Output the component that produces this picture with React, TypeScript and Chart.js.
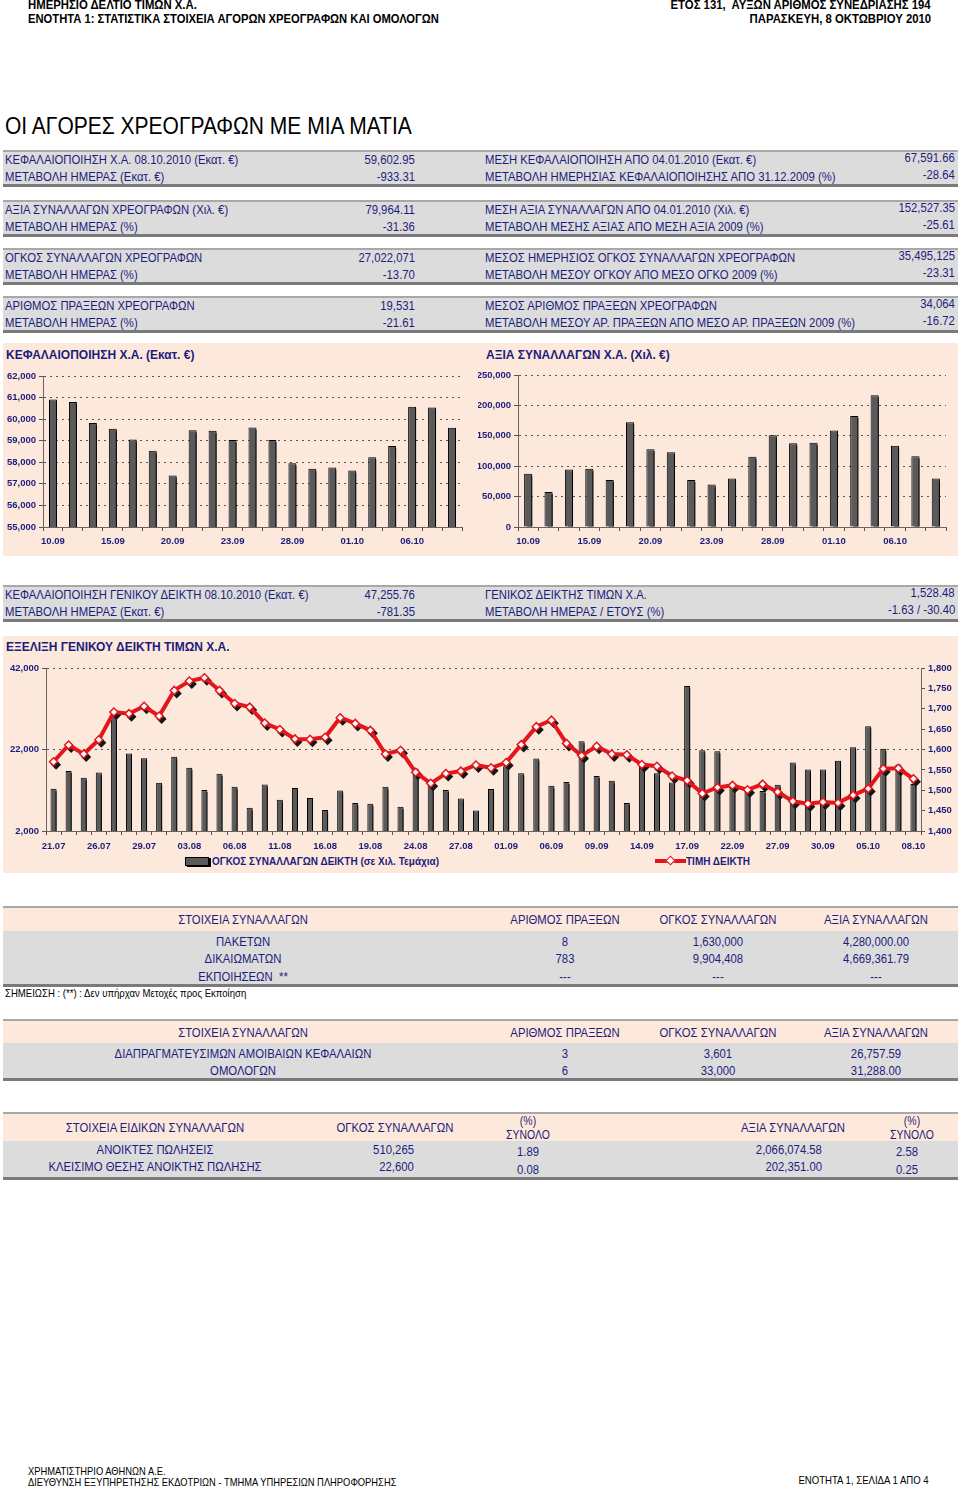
import React, { useEffect, useRef } from "react";
import { Chart, registerables } from "chart.js";

Chart.register(...registerables);

// ---------------- data ----------------
const capDates = ["10.09","13.09","14.09","15.09","16.09","17.09","20.09","21.09","22.09","23.09","24.09","27.09","28.09","29.09","30.09","01.10","04.10","05.10","06.10","07.10","08.10"];
const capValues = [60910,60790,59820,59560,59060,58540,57390,59490,59460,59030,59610,59030,57960,57700,57760,57620,58230,58750,60570,60540,59603];
const tradeValues = [87500,57400,94600,95700,77100,172300,128000,123100,77100,70000,79900,115400,151000,137900,138400,158600,182700,216600,133500,116500,79964];

const idxDates = ["21.07","22.07","23.07","26.07","27.07","28.07","29.07","30.07","02.08","03.08","04.08","05.08","06.08","09.08","10.08","11.08","12.08","13.08","16.08","17.08","18.08","19.08","20.08","23.08","24.08","25.08","26.08","27.08","30.08","31.08","01.09","02.09","03.09","06.09","07.09","08.09","09.09","10.09","13.09","14.09","15.09","16.09","17.09","20.09","21.09","22.09","23.09","24.09","27.09","28.09","29.09","30.09","01.10","04.10","05.10","06.10","07.10","08.10"];
const idxVolume = [12370,16700,15060,16370,30650,21000,19880,13840,20200,17500,12040,16040,12860,7700,13430,9670,12530,10080,7140,11960,8860,8690,12860,7960,17350,13670,12040,10000,7060,
  12290,17900,16200,19800,13100,14000,24040,15470,14330,8860,17900,16200,13920,37590,21840,21590,12860,12450,11800,13350,18820,17100,17100,19220,22570,27710,22160,18330,13510];
const idxPrice = [1570,1611,1589,1624,1692,1688,1706,1682,1745,1768,1776,1745,1713,1704,1665,1649,1626,1625,1630,1678,1664,1647,1589,1598,1544,1517,1541,1547,1562,
  1555,1568,1612,1656,1672,1615,1585,1608,1589,1587,1563,1559,1535,1524,1492,1507,1512,1501,1515,1496,1473,1467,1471,1469,1488,1504,1553,1554,1528];

const capAxis = [55000, 62000, 1000];
const tradeAxis = [0, 250000, 50000];
const volAxis = [2000, 42000, 20000];
const priceAxis = [1400, 1800, 50];

const summaryRows = [
  ["ΚΕΦΑΛΑΙΟΠΟΙΗΣΗ Χ.Α. 08.10.2010 (Εκατ. €)", "59,602.95", "ΜΕΣΗ ΚΕΦΑΛΑΙΟΠΟΙΗΣΗ ΑΠΟ 04.01.2010 (Εκατ. €)", "67,591.66"],
  ["ΜΕΤΑΒΟΛΗ ΗΜΕΡΑΣ (Εκατ. €)", "-933.31", "ΜΕΤΑΒΟΛΗ ΗΜΕΡΗΣΙΑΣ ΚΕΦΑΛΑΙΟΠΟΙΗΣΗΣ ΑΠΟ 31.12.2009 (%)", "-28.64"],
  ["ΑΞΙΑ ΣΥΝΑΛΛΑΓΩΝ ΧΡΕΟΓΡΑΦΩΝ (Χιλ. €)", "79,964.11", "ΜΕΣΗ ΑΞΙΑ ΣΥΝΑΛΛΑΓΩΝ ΑΠΟ 04.01.2010 (Χιλ. €)", "152,527.35"],
  ["ΜΕΤΑΒΟΛΗ ΗΜΕΡΑΣ (%)", "-31.36", "ΜΕΤΑΒΟΛΗ ΜΕΣΗΣ ΑΞΙΑΣ ΑΠΟ ΜΕΣΗ ΑΞΙΑ 2009 (%)", "-25.61"],
  ["ΟΓΚΟΣ ΣΥΝΑΛΛΑΓΩΝ ΧΡΕΟΓΡΑΦΩΝ", "27,022,071", "ΜΕΣΟΣ ΗΜΕΡΗΣΙΟΣ ΟΓΚΟΣ ΣΥΝΑΛΛΑΓΩΝ ΧΡΕΟΓΡΑΦΩΝ", "35,495,125"],
  ["ΜΕΤΑΒΟΛΗ ΗΜΕΡΑΣ (%)", "-13.70", "ΜΕΤΑΒΟΛΗ ΜΕΣΟΥ ΟΓΚΟΥ ΑΠΟ ΜΕΣΟ ΟΓΚΟ 2009 (%)", "-23.31"],
  ["ΑΡΙΘΜΟΣ ΠΡΑΞΕΩΝ ΧΡΕΟΓΡΑΦΩΝ", "19,531", "ΜΕΣΟΣ ΑΡΙΘΜΟΣ ΠΡΑΞΕΩΝ ΧΡΕΟΓΡΑΦΩΝ", "34,064"],
  ["ΜΕΤΑΒΟΛΗ ΗΜΕΡΑΣ (%)", "-21.61", "ΜΕΤΑΒΟΛΗ ΜΕΣΟΥ ΑΡ. ΠΡΑΞΕΩΝ ΑΠΟ ΜΕΣΟ ΑΡ. ΠΡΑΞΕΩΝ 2009 (%)", "-16.72"],
];
const indexRows = [
  ["ΚΕΦΑΛΑΙΟΠΟΙΗΣΗ ΓΕΝΙΚΟΥ ΔΕΙΚΤΗ 08.10.2010 (Εκατ. €)", "47,255.76", "ΓΕΝΙΚΟΣ ΔΕΙΚΤΗΣ ΤΙΜΩΝ Χ.Α.", "1,528.48"],
  ["ΜΕΤΑΒΟΛΗ ΗΜΕΡΑΣ (Εκατ. €)", "-781.35", "ΜΕΤΑΒΟΛΗ ΗΜΕΡΑΣ / ΕΤΟΥΣ (%)", "-1.63 / -30.40"],
];
const tradeHead = ["ΣΤΟΙΧΕΙΑ ΣΥΝΑΛΛΑΓΩΝ", "ΑΡΙΘΜΟΣ ΠΡΑΞΕΩΝ", "ΟΓΚΟΣ ΣΥΝΑΛΛΑΓΩΝ", "ΑΞΙΑ ΣΥΝΑΛΛΑΓΩΝ"];
const table1Rows = [
  ["ΠΑΚΕΤΩΝ", "8", "1,630,000", "4,280,000.00"],
  ["ΔΙΚΑΙΩΜΑΤΩΝ", "783", "9,904,408", "4,669,361.79"],
  ["ΕΚΠΟΙΗΣΕΩΝ  **", "---", "---", "---"],
];
const table2Rows = [
  ["ΔΙΑΠΡΑΓΜΑΤΕΥΣΙΜΩΝ ΑΜΟΙΒΑΙΩΝ ΚΕΦΑΛΑΙΩΝ", "3", "3,601", "26,757.59"],
  ["ΟΜΟΛΟΓΩΝ", "6", "33,000", "31,288.00"],
];
const table3Rows = [
  ["ΑΝΟΙΚΤΕΣ ΠΩΛΗΣΕΙΣ", "510,265", "1.89", "2,066,074.58", "2.58"],
  ["ΚΛΕΙΣΙΜΟ ΘΕΣΗΣ ΑΝΟΙΚΤΗΣ ΠΩΛΗΣΗΣ", "22,600", "0.08", "202,351.00", "0.25"],
];

// ---------------- styles ----------------
const NAVY = "#1c1c7c";
const PEACH = "#fde9dc";
const GRAYBAND = "#dcdcdc";
const FONT = '"Liberation Sans", Arial, Helvetica, sans-serif';
const AXIS_FONT = { family: FONT, size: 9.5, weight: "bold" as const };

type Align = "l" | "r" | "c";
function T(props: { x: number; y: number; s?: number; a?: Align; c?: string; b?: boolean; k?: number; children: React.ReactNode }) {
  const { x, y, s = 13, a = "l", c = NAVY, b = false, k = 0.87, children } = props;
  const st: React.CSSProperties = {
    position: "absolute", top: y - s / 2, fontSize: s, lineHeight: `${s}px`, whiteSpace: "pre",
    color: c, fontWeight: b ? 700 : 400, fontFamily: FONT, transform: `scaleX(${k})`,
  };
  if (a === "l") { st.left = x; st.transformOrigin = "left center"; }
  else if (a === "r") { st.right = 960 - x; st.transformOrigin = "right center"; }
  else { st.left = x - 300; st.width = 600; st.textAlign = "center"; st.transformOrigin = "center center"; }
  return <div style={st}>{children}</div>;
}

function Box(props: { top: number; h: number; bg: string; bt?: string; bb?: string }) {
  return <div style={{ position: "absolute", left: 3, width: 955, top: props.top, height: props.h, background: props.bg, borderTop: props.bt, borderBottom: props.bb, boxSizing: "border-box" }} />;
}

// ---------------- chart helpers ----------------
const shadowPlugin = {
  id: "shadows",
  beforeDatasetDraw(chart: any, args: any) {
    const ctx = chart.ctx;
    ctx.save();
    if (args.meta.type === "bar") {
      ctx.shadowColor = "#000";
      ctx.shadowOffsetX = 3;
      ctx.shadowOffsetY = 2;
      ctx.shadowBlur = 0;
    } else if (args.meta.type === "line") {
      ctx.fillStyle = "#161616";
      for (const p of args.meta.data) {
        const x = p.x + 2.5, y = p.y + 3, r = 5;
        ctx.beginPath();
        ctx.moveTo(x, y - r); ctx.lineTo(x + r, y); ctx.lineTo(x, y + r); ctx.lineTo(x - r, y);
        ctx.closePath();
        ctx.fill();
      }
    }
  },
  afterDatasetDraw(chart: any) {
    chart.ctx.restore();
  },
};

function xScale(height: number, pad: number) {
  return {
    grid: { display: true, drawOnChartArea: false, drawTicks: true, tickLength: 4, color: "#555", offset: true },
    border: { display: true, color: "#666", width: 1 },
    ticks: {
      autoSkip: false, maxRotation: 0, minRotation: 0, color: NAVY, font: AXIS_FONT, padding: pad,
      callback: function (this: any, v: any, i: number) { return i % 3 === 0 ? this.getLabelForValue(v) : ""; },
    },
    afterFit: (s: any) => { s.height = height; },
  };
}
function yScale(axis: number[], width: number, position: string, grid: boolean) {
  return {
    position, min: axis[0], max: axis[1],
    ticks: { stepSize: axis[2], color: NAVY, font: AXIS_FONT, padding: 3, callback: (v: any) => Number(v).toLocaleString("en-US") },
    grid: { display: true, drawOnChartArea: grid, color: "#555", lineWidth: 1, drawTicks: true, tickLength: 4, tickColor: "#555" },
    border: { display: true, color: "#666", width: 1, dash: [2, 4] },
    afterFit: (s: any) => { s.width = width; },
  };
}

function barDataset(data: number[], label: string, pct: number, extra: any = {}) {
  return {
    type: "bar", label, data, backgroundColor: "#5a5a5a", borderColor: "#000", borderWidth: 1,
    barPercentage: pct, categoryPercentage: 1, clip: 0, ...extra,
  };
}

function ChartBox(props: { left: number; top: number; width: number; height: number; make: () => any }) {
  const ref = useRef<HTMLCanvasElement>(null);
  useEffect(() => {
    const chart = new Chart(ref.current as HTMLCanvasElement, props.make());
    return () => chart.destroy();
  }, []);
  return <canvas ref={ref} width={props.width} height={props.height}
    style={{ position: "absolute", left: props.left, top: props.top, width: props.width, height: props.height }} />;
}

const baseOptions = (padding: any) => ({
  responsive: false, maintainAspectRatio: false, animation: false,
  layout: { padding },
  plugins: { legend: { display: false }, tooltip: { enabled: false } },
});

const makeCapChart = () => ({
  type: "bar",
  data: { labels: capDates, datasets: [barDataset(capValues, "ΚΕΦΑΛΑΙΟΠΟΙΗΣΗ", 0.4)] },
  options: { ...baseOptions({ top: 10, right: 13, left: 0, bottom: 0 }), scales: { x: xScale(24, 5), y: yScale(capAxis, 40, "left", true) } },
  plugins: [shadowPlugin],
});
const makeTradeChart = () => ({
  type: "bar",
  data: { labels: capDates, datasets: [barDataset(tradeValues, "ΑΞΙΑ", 0.4)] },
  options: { ...baseOptions({ top: 9, right: 10, left: 0, bottom: 0 }), scales: { x: xScale(24, 5), y: yScale(tradeAxis, 40, "left", true) } },
  plugins: [shadowPlugin],
});
const makeIndexChart = () => ({
  type: "bar",
  data: {
    labels: idxDates,
    datasets: [
      {
        type: "line", label: "ΤΙΜΗ ΔΕΙΚΤΗ", data: idxPrice, yAxisID: "y1", order: 0,
        borderColor: "#e3161c", borderWidth: 4, tension: 0,
        pointStyle: "rectRot", pointRadius: 4, pointBackgroundColor: "#fff", pointBorderColor: "#e3161c", pointBorderWidth: 1.5,
      },
      barDataset(idxVolume, "ΟΓΚΟΣ ΣΥΝΑΛΛΑΓΩΝ ΔΕΙΚΤΗ", 0.4, { yAxisID: "y", order: 1 }),
    ],
  },
  options: {
    ...baseOptions({ top: 11, right: 3, left: 0, bottom: 0 }),
    scales: { x: xScale(24, 6), y: yScale(volAxis, 43, "left", true), y1: yScale(priceAxis, 34, "right", false) },
  },
  plugins: [shadowPlugin],
});

// ---------------- page ----------------
function SummaryBlock({ top, rows }: { top: number; rows: string[][] }) {
  return (
    <>
      <Box top={top} h={37} bg={GRAYBAND} bt="2px solid #a8a8a8" bb="3px solid #7a7a7a" />
      {rows.map((r, i) => (
        <React.Fragment key={i}>
          <T x={5} y={top + 9 + i * 17}>{r[0]}</T>
          <T x={415} y={top + 9 + i * 17} a="r">{r[1]}</T>
          <T x={485} y={top + 9 + i * 17}>{r[2]}</T>
          <T x={955} y={top + 7 + i * 17} a="r">{r[3]}</T>
        </React.Fragment>
      ))}
    </>
  );
}

function TradeTable({ top, rows, headH, bodyH }: { top: number; rows: string[][]; headH: number; bodyH: number }) {
  const cols = [243, 565, 718, 876];
  return (
    <>
      <Box top={top} h={headH + bodyH + 5} bg={GRAYBAND} bt="2px solid #a8a8a8" bb="3px solid #7a7a7a" />
      <div style={{ position: "absolute", left: 3, width: 955, top: top + 2, height: headH, background: PEACH }} />
      {tradeHead.map((h, i) => <T key={i} x={cols[i]} y={top + 2 + headH / 2} a="c">{h}</T>)}
      {rows.map((r, j) => r.map((v, i) => (
        <T key={j + "-" + i} x={cols[i]} y={top + headH + 12 + j * 17.5} a="c">{v}</T>
      )))}
    </>
  );
}

export default function App() {
  return (
    <div style={{ position: "absolute", left: 0, top: 0, width: 960, height: 1488, background: "#fff", overflow: "hidden", fontFamily: FONT }}>
      {/* header */}
      <T x={28} y={5} s={13.5} b c="#000" k={0.84}>ΗΜΕΡΗΣΙΟ ΔΕΛΤΙΟ ΤΙΜΩΝ Χ.Α.</T>
      <T x={28} y={19} s={13.5} b c="#000" k={0.83}>ΕΝΟΤΗΤΑ 1: ΣΤΑΤΙΣΤΙΚΑ ΣΤΟΙΧΕΙΑ ΑΓΟΡΩΝ ΧΡΕΟΓΡΑΦΩΝ ΚΑΙ ΟΜΟΛΟΓΩΝ</T>
      <T x={931} y={5} s={13.5} b c="#000" a="r" k={0.84}>ΕΤΟΣ 131,  ΑΥΞΩΝ ΑΡΙΘΜΟΣ ΣΥΝΕΔΡΙΑΣΗΣ 194</T>
      <T x={931} y={19} s={13.5} b c="#000" a="r" k={0.84}>ΠΑΡΑΣΚΕΥΗ, 8 ΟΚΤΩΒΡΙΟΥ 2010</T>
      <T x={5} y={126} s={24} c="#000" k={0.875}>ΟΙ ΑΓΟΡΕΣ ΧΡΕΟΓΡΑΦΩΝ ΜΕ ΜΙΑ ΜΑΤΙΑ</T>

      <SummaryBlock top={150} rows={summaryRows.slice(0, 2)} />
      <SummaryBlock top={200} rows={summaryRows.slice(2, 4)} />
      <SummaryBlock top={248} rows={summaryRows.slice(4, 6)} />
      <SummaryBlock top={296} rows={summaryRows.slice(6, 8)} />

      {/* charts row */}
      <div style={{ position: "absolute", left: 3, top: 343, width: 955, height: 213, background: PEACH }} />
      <T x={6} y={355} s={12} b k={1}>ΚΕΦΑΛΑΙΟΠΟΙΗΣΗ Χ.Α. (Εκατ. €)</T>
      <T x={486} y={355} s={12} b k={1}>ΑΞΙΑ ΣΥΝΑΛΛΑΓΩΝ Χ.Α. (Χιλ. €)</T>
      <ChartBox left={3} top={366} width={472} height={185} make={makeCapChart} />
      <ChartBox left={478} top={366} width={478} height={185} make={makeTradeChart} />

      <SummaryBlock top={585} rows={indexRows} />

      {/* index chart */}
      <div style={{ position: "absolute", left: 3, top: 636, width: 955, height: 237, background: PEACH }} />
      <T x={6} y={647} s={12} b k={1}>ΕΞΕΛΙΞΗ ΓΕΝΙΚΟΥ ΔΕΙΚΤΗ ΤΙΜΩΝ Χ.Α.</T>
      <ChartBox left={3} top={657} width={955} height={198} make={makeIndexChart} />
      <div style={{ position: "absolute", left: 185, top: 857, width: 24, height: 9, background: "#5a5a5a", border: "1px solid #000", boxSizing: "border-box", boxShadow: "2px 1px 0 #000" }} />
      <T x={212} y={862} s={10} b k={1}>ΟΓΚΟΣ ΣΥΝΑΛΛΑΓΩΝ ΔΕΙΚΤΗ (σε Χιλ. Τεμάχια)</T>
      <div style={{ position: "absolute", left: 655, top: 859, width: 31, height: 4, background: "#e3161c" }} />
      <div style={{ position: "absolute", left: 667, top: 857, width: 7, height: 7, background: "#fff", border: "1.5px solid #e3161c", boxSizing: "border-box", transform: "rotate(45deg)" }} />
      <T x={686} y={862} s={10} b k={1}>ΤΙΜΗ ΔΕΙΚΤΗ</T>

      {/* tables */}
      <TradeTable top={906} rows={table1Rows} headH={23} bodyH={53} />
      <T x={5} y={993} s={11} c="#000">ΣΗΜΕΙΩΣΗ : (**) : Δεν υπήρχαν Μετοχές προς Εκποίηση</T>
      <TradeTable top={1019} rows={table2Rows} headH={22} bodyH={35} />

      <Box top={1112} h={68} bg={GRAYBAND} bt="2px solid #a8a8a8" bb="3px solid #7a7a7a" />
      <div style={{ position: "absolute", left: 3, width: 955, top: 1114, height: 27, background: PEACH }} />
      <T x={155} y={1127} a="c">ΣΤΟΙΧΕΙΑ ΕΙΔΙΚΩΝ ΣΥΝΑΛΛΑΓΩΝ</T>
      <T x={395} y={1127} a="c">ΟΓΚΟΣ ΣΥΝΑΛΛΑΓΩΝ</T>
      <T x={528} y={1121} a="c" s={12}>(%)</T>
      <T x={528} y={1135} a="c" s={12}>ΣΥΝΟΛΟ</T>
      <T x={793} y={1127} a="c">ΑΞΙΑ ΣΥΝΑΛΛΑΓΩΝ</T>
      <T x={912} y={1121} a="c" s={12}>(%)</T>
      <T x={912} y={1135} a="c" s={12}>ΣΥΝΟΛΟ</T>
      {table3Rows.map((r, j) => (
        <React.Fragment key={j}>
          <T x={155} y={1149 + j * 17} a="c">{r[0]}</T>
          <T x={414} y={1149 + j * 17} a="r">{r[1]}</T>
          <T x={528} y={1151 + j * 18} a="c">{r[2]}</T>
          <T x={822} y={1149 + j * 17} a="r">{r[3]}</T>
          <T x={907} y={1151 + j * 18} a="c">{r[4]}</T>
        </React.Fragment>
      ))}

      {/* footer */}
      <T x={28} y={1471} s={11} c="#000" k={0.85}>ΧΡΗΜΑΤΙΣΤΗΡΙΟ ΑΘΗΝΩΝ Α.Ε.</T>
      <T x={28} y={1482} s={11} c="#000" k={0.85}>ΔΙΕΥΘΥΝΣΗ ΕΞΥΠΗΡΕΤΗΣΗΣ ΕΚΔΟΤΡΙΩΝ - ΤΜΗΜΑ ΥΠΗΡΕΣΙΩΝ ΠΛΗΡΟΦΟΡΗΣΗΣ</T>
      <T x={929} y={1480} s={11} c="#000" a="r" k={0.87}>ΕΝΟΤΗΤΑ 1, ΣΕΛΙΔΑ 1 ΑΠΟ 4</T>
    </div>
  );
}
